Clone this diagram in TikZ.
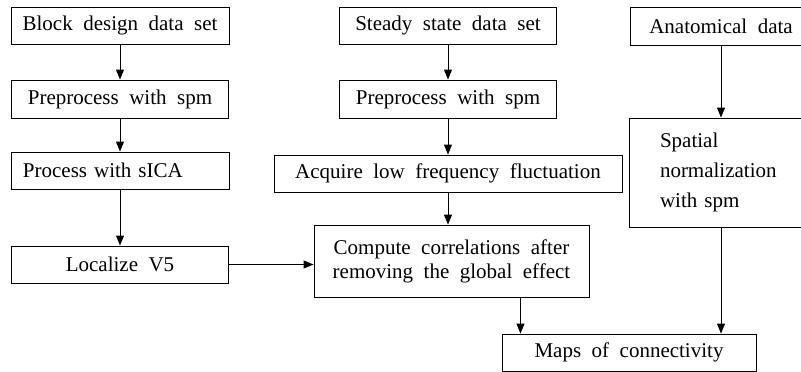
\documentclass[tikz,border=0pt]{standalone}
\usepackage{fontspec}
\setmainfont{Liberation Serif}[WordSpace=2]
\usetikzlibrary{arrows.meta, positioning, calc}
\tikzset{
  box/.style={
    rectangle, draw=black, line width=0.9pt,
    font=\fontsize{21}{24}\selectfont,
    inner sep=4pt, minimum height=37pt, align=center
  },
  leftBox/.style={box, align=left},
  arr/.style={-{Triangle[length=10pt, width=8pt]}, line width=0.9pt},
}

\begin{document}
\begin{tikzpicture}[x=1pt, y=-1pt]
\clip (0,0) rectangle (801,372);

% ---- Left column -----------------------------------------------
\node[box, minimum width=218pt] (blk) at (120,25.5) {Block design data set};
\node[box, minimum width=217pt, minimum height=38pt] (preA) at (120,99) {Preprocess with spm};
\node[leftBox, text width=194pt, inner xsep=12pt] (sica) at (120,170.5) {Process with sICA};
\node[box, minimum width=217pt] (vfive) at (120,264.5) {Localize V5};

% ---- Middle column ---------------------------------------------
\node[box, minimum width=217pt] (steady) at (448,25.5) {Steady state data set};
\node[box, minimum width=217pt, minimum height=38pt] (preB) at (448,99) {Preprocess with spm};
\node[box, minimum width=348pt] (acq) at (448,173.5) {Acquire low frequency fluctuation};
\node[box, minimum width=275pt, minimum height=72pt] (comp) at (451.5,261) {Compute correlations after\\removing the global effect};

% ---- Right column ----------------------------------------------
\node[box, minimum width=182pt, minimum height=38pt] (anat) at (721,26) {Anatomical data};
\node[leftBox, text width=122pt, inner xsep=31pt, minimum height=109pt] (spat) at (721,172.5) {Spatial\\[6pt]normalization\\[6pt]with spm};
\node[box, minimum width=254pt] (maps) at (629,352.5) {Maps of connectivity};

% ---- Arrows ----------------------------------------------------
\draw[arr] (blk) -- (preA);
\draw[arr] (preA) -- (sica);
\draw[arr] (sica) -- (vfive);
\draw[arr] (vfive.east) -- (vfive.east -| comp.west);
\draw[arr] (steady) -- (preB);
\draw[arr] (preB) -- (acq);
\draw[arr] (acq.south) -- (acq.south |- comp.north);
\draw[arr] ($(comp.south west)!0.75!(comp.south east)$) coordinate (cOut) -- (cOut |- maps.north);
\draw[arr] (anat) -- (spat);
\draw[arr] (spat.south) -- (spat.south |- maps.north);

\end{tikzpicture}
\end{document}
